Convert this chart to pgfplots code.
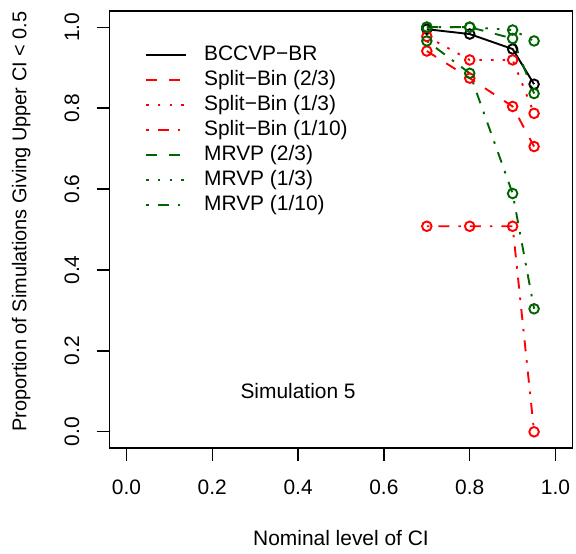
\documentclass[border=0pt]{standalone}
\usepackage{fontspec}
\setmainfont{Liberation Sans}
\usepackage{pgfplots}
\pgfplotsset{compat=1.18}

\definecolor{rred}{HTML}{FF0000}
\definecolor{rgreen}{HTML}{006400}

\tikzset{
  rdash/.style={dash pattern=on 11bp off 12bp},
  rdot/.style={dash pattern=on 2.5bp off 9.2bp},
  rdotdash/.style={dash pattern=on 2.5bp off 9bp on 11bp off 9bp},
}
\newcommand{\fs}{\fontsize{21pt}{25pt}\selectfont}

\begin{document}
\fs
\begin{tikzpicture}
\useasboundingbox (-109.3bp,-106bp) rectangle (466.7bp,448bp);
\begin{axis}[
  scale only axis, width=463.4bp, height=437bp,
  xmin=-0.04, xmax=1.04, ymin=-0.04, ymax=1.04,
  xtick={0,0.2,...,1}, ytick={0,0.2,...,1},
  xticklabels={0.0,0.2,0.4,0.6,0.8,1.0},
  yticklabels={0.0,0.2,0.4,0.6,0.8,1.0},
  xtick pos=left, ytick pos=left,
  tick align=outside, major tick length=12.7bp,
  tick style={line width=1.3bp, black},
  axis line style={line width=1.3bp},
  /pgf/number format/assume math mode=true,
  tick label style={font=\fs},
  yticklabel style={rotate=90, anchor=south, inner sep=0pt, yshift=17bp},
  xticklabel style={anchor=north, inner sep=0pt, yshift=-19bp},
  every axis x label/.style={at={(rel axis cs:0.5,0)}, yshift=-90bp, anchor=center},
  every axis y label/.style={at={(rel axis cs:0,0.518)}, xshift=-88bp, rotate=90, anchor=center},
  xlabel={Nominal level of CI},
  ylabel={Proportion of Simulations Giving Upper CI < 0.5},
  xlabel style={font=\fs},
  ylabel style={font=\fontsize{20pt}{24pt}\selectfont},
  legend style={draw=none, fill=none, at={(rel axis cs:0,1)}, anchor=north west,
    xshift=35.7bp, yshift=-34bp, inner sep=0pt, row sep=5bp,
    font=\fs,
    nodes={inner sep=0pt, text height=15bp, text depth=5bp}},
  legend cell align=left,
  legend image code/.code={\draw[#1] (0bp,0bp) -- (40bp,0bp);},
  /tikz/every odd column/.append style={column sep=17bp},
  every axis plot/.append style={line width=1.9bp, mark=o, mark size=4.8bp,
    mark options={solid, line width=1.9bp}},
]
\addplot[black] coordinates {(0.7,0.995) (0.8,0.983) (0.9,0.946) (0.95,0.859)};
\addlegendentry{BCCVP−BR}
\addplot[rred, rdash] coordinates {(0.7,0.941) (0.8,0.874) (0.9,0.804) (0.95,0.705)};
\addlegendentry{Split−Bin (2/3)}
\addplot[rred, rdot] coordinates {(0.7,0.977) (0.8,0.919) (0.9,0.919) (0.95,0.787)};
\addlegendentry{Split−Bin (1/3)}
\addplot[rred, rdotdash] coordinates {(0.7,0.508) (0.8,0.508) (0.9,0.508) (0.95,0.000)};
\addlegendentry{Split−Bin (1/10)}
\addplot[rgreen, rdash] coordinates {(0.7,1.000) (0.8,1.000) (0.9,0.972) (0.95,0.836)};
\addlegendentry{MRVP (2/3)}
\addplot[rgreen, rdot] coordinates {(0.7,1.000) (0.8,1.000) (0.9,0.993) (0.95,0.966)};
\addlegendentry{MRVP (1/3)}
\addplot[rgreen, rdotdash] coordinates {(0.7,0.966) (0.8,0.886) (0.9,0.589) (0.95,0.304)};
\addlegendentry{MRVP (1/10)}
\node[font=\fs] at (axis cs:0.4,0.1) {Simulation 5};
\end{axis}
\end{tikzpicture}
\end{document}
